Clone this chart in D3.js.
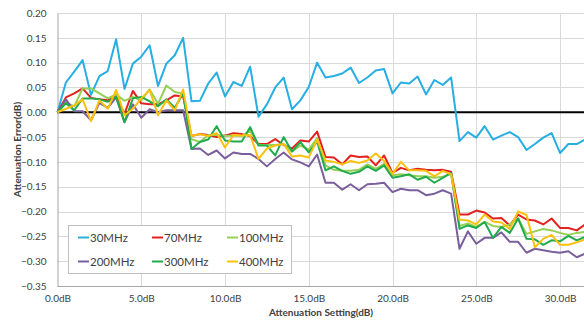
<!DOCTYPE html>
<html>
<head>
<meta charset="utf-8">
<script src="https://cdn.jsdelivr.net/npm/d3@7"></script>
<style>
  html, body { margin: 0; padding: 0; background: #fff; }
  svg { display: block; font-family: Lato, "Open Sans", sans-serif; }
</style>
</head>
<body>
<svg id="chart" width="584" height="320"></svg>
<script>
// Attenuation setting steps (dB)
const settings = [
  0, 0.5, 1, 1.5, 2, 2.5, 3, 3.5, 4, 4.5, 5, 5.5, 6, 6.5, 7, 7.5,
  8, 8.5, 9, 9.5, 10, 10.5, 11, 11.5, 12, 12.5, 13, 13.5, 14, 14.5, 15, 15.5,
  16, 16.5, 17, 17.5, 18, 18.5, 19, 19.5, 20, 20.5, 21, 21.5, 22, 22.5, 23, 23.5,
  24, 24.5, 25, 25.5, 26, 26.5, 27, 27.5, 28, 28.5, 29, 29.5, 30, 30.5, 31, 31.5
];

// Attenuation error (dB) per frequency
const err30 = [
  0, 0.060, 0.082, 0.105, 0.035, 0.073, 0.083, 0.147, 0.047, 0.098, 0.112, 0.135, 0.053, 0.098, 0.115, 0.150,
  0.022, 0.023, 0.058, 0.080, 0.032, 0.061, 0.053, 0.092, -0.009, 0.016, 0.050, 0.070, 0.006, 0.024, 0.051, 0.100,
  0.070, 0.073, 0.078, 0.090, 0.059, 0.070, 0.084, 0.087, 0.038, 0.060, 0.058, 0.072, 0.036, 0.065, 0.055, 0.070,
  -0.058, -0.040, -0.051, -0.028, -0.055, -0.047, -0.040, -0.050, -0.076, -0.064, -0.051, -0.042, -0.082, -0.064, -0.064, -0.055
];
const err70 = [
  0, 0.030, 0.038, 0.048, 0.029, 0.026, 0.024, 0.032, -0.003, 0.043, 0.018, 0.016, 0.016, 0.024, 0.034, 0.032,
  -0.048, -0.044, -0.046, -0.050, -0.047, -0.042, -0.044, -0.048, -0.064, -0.064, -0.054, -0.066, -0.073, -0.057, -0.059, -0.039,
  -0.090, -0.091, -0.105, -0.087, -0.090, -0.089, -0.107, -0.087, -0.122, -0.112, -0.117, -0.114, -0.116, -0.117, -0.116, -0.120,
  -0.206, -0.206, -0.198, -0.202, -0.214, -0.213, -0.228, -0.206, -0.216, -0.218, -0.226, -0.214, -0.233, -0.233, -0.238, -0.226
];
const err100 = [
  0, 0.020, 0.012, 0.048, 0.048, 0.038, 0.028, 0.036, 0.023, 0.031, 0.024, 0.046, 0.017, 0.054, 0.041, 0.038,
  -0.054, -0.060, -0.046, -0.046, -0.048, -0.047, -0.048, -0.037, -0.066, -0.066, -0.066, -0.064, -0.079, -0.067, -0.075, -0.052,
  -0.107, -0.116, -0.118, -0.118, -0.116, -0.105, -0.114, -0.104, -0.127, -0.125, -0.127, -0.129, -0.129, -0.132, -0.130, -0.124,
  -0.229, -0.224, -0.231, -0.221, -0.229, -0.231, -0.226, -0.214, -0.245, -0.240, -0.235, -0.238, -0.243, -0.247, -0.243, -0.241
];
const err200 = [
  0, 0.026, 0.002, 0.002, -0.016, 0.019, 0.009, 0.030, -0.020, 0.016, -0.011, 0.006, 0.000, 0.004, 0.004, 0.004,
  -0.074, -0.073, -0.086, -0.077, -0.093, -0.081, -0.084, -0.084, -0.094, -0.109, -0.094, -0.081, -0.095, -0.101, -0.109, -0.085,
  -0.142, -0.142, -0.156, -0.145, -0.157, -0.145, -0.144, -0.142, -0.161, -0.154, -0.157, -0.157, -0.167, -0.164, -0.157, -0.164,
  -0.275, -0.240, -0.265, -0.253, -0.253, -0.242, -0.261, -0.261, -0.283, -0.275, -0.278, -0.281, -0.283, -0.280, -0.292, -0.285
];
const err300 = [
  0, 0.018, 0.004, 0.028, 0.028, 0.026, 0.021, 0.031, -0.020, 0.028, 0.031, 0.022, 0.012, 0.026, 0.009, 0.038,
  -0.074, -0.060, -0.055, -0.028, -0.057, -0.059, -0.059, -0.030, -0.067, -0.067, -0.087, -0.050, -0.079, -0.060, -0.081, -0.059,
  -0.117, -0.109, -0.118, -0.124, -0.120, -0.109, -0.118, -0.107, -0.132, -0.129, -0.125, -0.136, -0.130, -0.142, -0.132, -0.122,
  -0.235, -0.228, -0.233, -0.221, -0.253, -0.231, -0.243, -0.214, -0.255, -0.256, -0.267, -0.258, -0.260, -0.249, -0.258, -0.251
];
const err400 = [
  0, 0.007, 0.014, 0.026, -0.018, 0.024, 0.007, 0.045, -0.006, 0.007, 0.028, 0.045, -0.006, 0.024, 0.004, 0.046,
  -0.048, -0.044, -0.048, -0.042, -0.071, -0.046, -0.047, -0.046, -0.094, -0.073, -0.067, -0.064, -0.089, -0.087, -0.091, -0.055,
  -0.097, -0.100, -0.105, -0.098, -0.102, -0.097, -0.083, -0.098, -0.124, -0.100, -0.117, -0.117, -0.118, -0.129, -0.118, -0.125,
  -0.216, -0.218, -0.226, -0.206, -0.220, -0.222, -0.235, -0.200, -0.207, -0.272, -0.255, -0.247, -0.267, -0.267, -0.262, -0.256
];

const seriesNames = ["30MHz", "70MHz", "100MHz", "200MHz", "300MHz", "400MHz"];
const seriesValues = [err30, err70, err100, err200, err300, err400];
const seriesColors = ["#27aee3", "#e3221f", "#96cf55", "#7b5f9c", "#21ab4d", "#fcc10f"];

const xTicks = [0, 5, 10, 15, 20, 25, 30];
const yTicks = [0.20, 0.15, 0.10, 0.05, 0.00, -0.05, -0.10, -0.15, -0.20, -0.25, -0.30, -0.35];

const svg = d3.select("#chart");
const x = d3.scaleLinear().domain([0, 30]).range([57.5, 560]);
const y = d3.scaleLinear().domain([-0.35, 0.20]).range([286, 13]);
const xEnd = 584;

// Gridlines
const grid = svg.append("g").attr("stroke", "#d9d9d9").attr("stroke-width", 1);
grid.selectAll("line.h").data(yTicks).join("line")
  .attr("x1", x(0)).attr("x2", xEnd)
  .attr("y1", d => Math.round(y(d)) + 0.5).attr("y2", d => Math.round(y(d)) + 0.5);
grid.selectAll("line.v").data(xTicks.filter(d => d > 0)).join("line")
  .attr("x1", d => Math.round(x(d)) + 0.5).attr("x2", d => Math.round(x(d)) + 0.5)
  .attr("y1", y(0.20)).attr("y2", y(-0.35));

// Axes
const xAxis = d3.axisBottom(x).tickValues(xTicks).tickSize(0).tickPadding(8)
  .tickFormat(d => d3.format(".1f")(d) + "dB");
const gx = svg.append("g").attr("transform", `translate(0,${Math.round(y(-0.35)) + 0.5})`).call(xAxis);
gx.select(".domain").attr("d", `M${x(0)},0H${xEnd}`).attr("stroke", "#a6a6a6");
gx.selectAll("text").attr("font-size", 10).attr("fill", "#404040").attr("font-family", "Lato, sans-serif");

const yAxis = d3.axisLeft(y).tickValues(yTicks).tickSize(0).tickPadding(11)
  .tickFormat(d3.format(".2f"));
const gy = svg.append("g").attr("transform", `translate(${Math.round(x(0)) - 0.5},0)`).call(yAxis);
gy.select(".domain").attr("stroke", "#a6a6a6");
gy.selectAll("text").attr("font-size", 10).attr("fill", "#404040").attr("font-family", "Lato, sans-serif");

// Zero reference line
svg.append("line")
  .attr("x1", x(0)).attr("x2", xEnd)
  .attr("y1", y(0)).attr("y2", y(0))
  .attr("stroke", "#000").attr("stroke-width", 2);

// Series lines
const line = d3.line().x((d, i) => x(settings[i])).y(d => y(d));
svg.append("g").selectAll("path").data(seriesValues).join("path")
  .attr("d", line)
  .attr("fill", "none")
  .attr("stroke", (d, i) => seriesColors[i])
  .attr("stroke-width", 2)
  .attr("stroke-linejoin", "round");

// Axis titles
svg.append("text")
  .attr("x", 321).attr("y", 316)
  .attr("text-anchor", "middle")
  .attr("font-size", 10).attr("font-weight", "bold").attr("fill", "#404040")
  .text("Attenuation Setting(dB)");
svg.append("text")
  .attr("transform", `translate(21,${(y(0.20) + y(-0.35)) / 2}) rotate(-90)`)
  .attr("text-anchor", "middle")
  .attr("font-size", 10).attr("font-weight", "bold").attr("fill", "#404040")
  .text("Attenuation Error(dB)");

// Legend
const legend = svg.append("g");
legend.append("rect")
  .attr("x", 68.5).attr("y", 225.5).attr("width", 223).attr("height", 48)
  .attr("fill", "#fff").attr("stroke", "#bfbfbf");
const colX = [78, 152, 227];
const rowY = [237.5, 261.5];
const items = legend.selectAll("g").data(seriesNames).join("g")
  .attr("transform", (d, i) => `translate(${colX[i % 3]},${rowY[Math.floor(i / 3)]})`);
items.append("line")
  .attr("x1", 0).attr("x2", 11).attr("y1", 0).attr("y2", 0)
  .attr("stroke", (d, i) => seriesColors[i]).attr("stroke-width", 2);
items.append("text")
  .attr("x", 12).attr("y", 0).attr("dy", "0.36em")
  .attr("font-size", 11.5).attr("fill", "#404040")
  .text(d => d);
</script>
</body>
</html>
